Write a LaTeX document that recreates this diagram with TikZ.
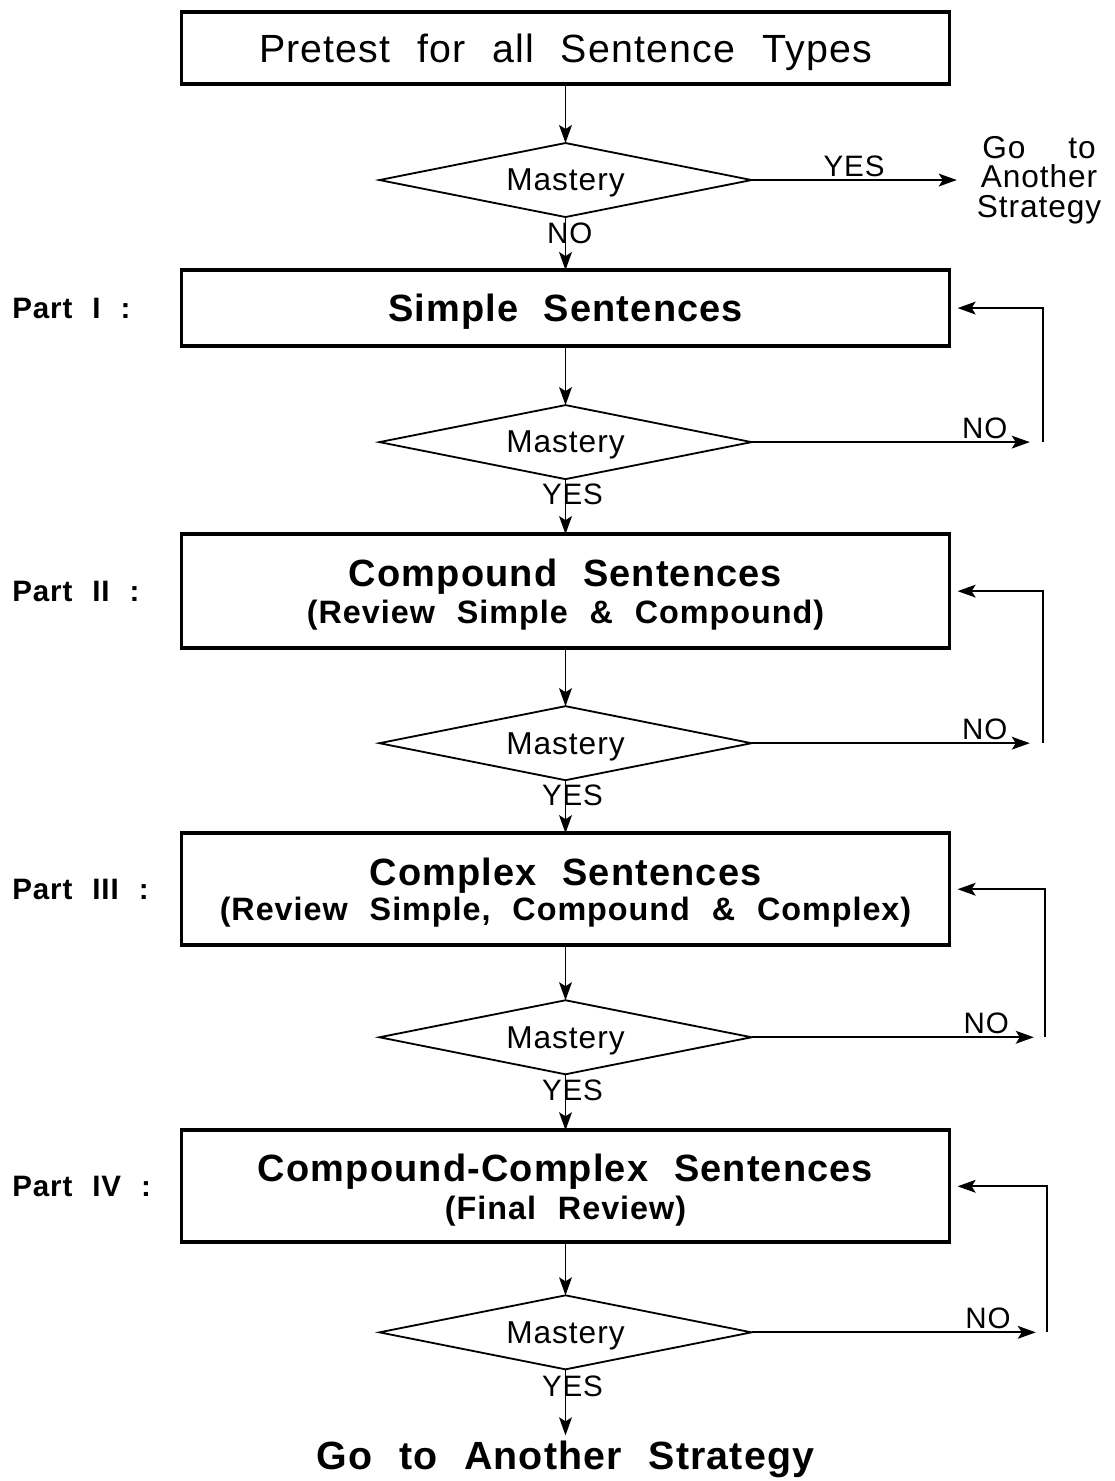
\documentclass[tikz,border=0pt]{standalone}
\usepackage{fontspec}
\setmainfont{Liberation Sans}[WordSpace=2.2,LetterSpace=3]
\usetikzlibrary{positioning,arrows.meta,shapes.geometric}
\newcommand{\revfont}{\fontsize{23}{28}\selectfont\bfseries}

\begin{document}
\begin{tikzpicture}[x=0.025cm,y=-0.025cm,
      box/.style={draw,line width=2.6pt,minimum width=19.2cm,inner sep=0pt,outer sep=0pt,align=center,
                  text depth=0pt,font=\fontsize{27}{34}\selectfont\bfseries},
      test/.style={diamond,aspect=5,draw,line width=1.3pt,minimum width=9.3cm,minimum height=1.85cm,
                   inner sep=0pt,outer sep=0pt,text depth=0pt,font=\fontsize{22.5}{25}\selectfont},
      part/.style={anchor=west,inner sep=0pt,font=\fontsize{21}{25}\selectfont\bfseries},
      lbl/.style={inner sep=2pt,font=\fontsize{21}{25}\selectfont},
      fl/.style={-{Stealth[length=4.5mm,width=3.2mm,inset=1mm]},line width=1.3pt}]
    \useasboundingbox (0,0) rectangle (1115,1481);
    % main column
    \node[box,minimum height=1.8cm,font=\fontsize{28}{34}\selectfont] (pre) at (565.5,48) {Pretest for all Sentence Types};
    \node[test,below=1.475cm of pre] (m0) {Mastery};
    \node[box,minimum height=1.9cm,below=1.325cm of m0] (simple) {Simple Sentences};
    \node[test,below=1.475cm of simple] (m1) {Mastery};
    \node[box,minimum height=2.85cm,below=1.375cm of m1] (comp) {Compound Sentences\\[-8pt]{\revfont(Review Simple \& Compound)}};
    \node[test,below=1.45cm of comp] (m2) {Mastery};
    \node[box,minimum height=2.8cm,below=1.325cm of m2] (cplx) {Complex Sentences\\[-9pt]{\revfont(Review Simple, Compound \& Complex)}};
    \node[test,below=1.375cm of cplx] (m3) {Mastery};
    \node[box,minimum height=2.8cm,below=1.4cm of m3] (cc) {Compound-Complex Sentences\\[-7pt]{\revfont(Final Review)}};
    \node[test,below=1.325cm of cc] (m4) {Mastery};
    \node[box,draw=none,minimum height=0pt,below=1.8cm of m4,font=\fontsize{28}{34}\selectfont\bfseries] (fin) {Go to Another Strategy};
    \node[lbl,align=center,inner sep=14pt,font=\fontsize{22.5}{21}\selectfont] (go1) at (1039,180) {Go\ \ to\\Another\\Strategy};
    % part labels
    \coordinate (lm) at (12,0);
    \node[part] (part1) at (lm |- simple) {Part I :};
    \node[part] (part2) at (lm |- comp) {Part II :};
    \node[part] (part3) at (lm |- cplx) {Part III :};
    \node[part] (part4) at (lm |- cc) {Part IV :};
    % return lines
    \coordinate (r1) at (1043,0);
    \coordinate (r2) at (1043,0);
    \coordinate (r3) at (1045,0);
    \coordinate (r4) at (1047,0);
    % arrows down
    \draw[fl] (pre) -- (m0);
    \draw[fl] (m0) -- node[lbl,pos=0.3,xshift=3pt]{NO} (simple);
    \draw[fl] (simple) -- (m1);
    \draw[fl] (m1) -- node[lbl,pos=0.28,xshift=5pt]{YES} (comp);
    \draw[fl] (comp) -- (m2);
    \draw[fl] (m2) -- node[lbl,pos=0.28,xshift=5pt]{YES} (cplx);
    \draw[fl] (cplx) -- (m3);
    \draw[fl] (m3) -- node[lbl,pos=0.28,xshift=5pt]{YES} (cc);
    \draw[fl] (cc) -- (m4);
    \draw[fl,shorten >=0.15cm] (m4) -- node[lbl,pos=0.24,xshift=5pt]{YES} (fin);
    \draw[fl] (m0.east) -- node[lbl,above,pos=0.52,xshift=-3pt]{YES} (go1.west |- m0.east);
    % back to the part
    \draw[fl,shorten >=0.33cm] (m1.east) -- node[lbl,above,pos=0.8]{NO} (r1 |- m1.east);
    \draw[fl,shorten >=0.2cm] (r1 |- m1.east) |- (simple.east);
    \draw[fl,shorten >=0.33cm] (m2.east) -- node[lbl,above,pos=0.8]{NO} (r2 |- m2.east);
    \draw[fl,shorten >=0.2cm] (r2 |- m2.east) |- (comp.east);
    \draw[fl,shorten >=0.28cm] (m3.east) -- node[lbl,above,pos=0.8]{NO} (r3 |- m3.east);
    \draw[fl,shorten >=0.2cm] (r3 |- m3.east) |- (cplx.east);
    \draw[fl,shorten >=0.28cm] (m4.east) -- node[lbl,above,pos=0.8]{NO} (r4 |- m4.east);
    \draw[fl,shorten >=0.2cm] (r4 |- m4.east) |- (cc.east);
\end{tikzpicture}
\end{document}
